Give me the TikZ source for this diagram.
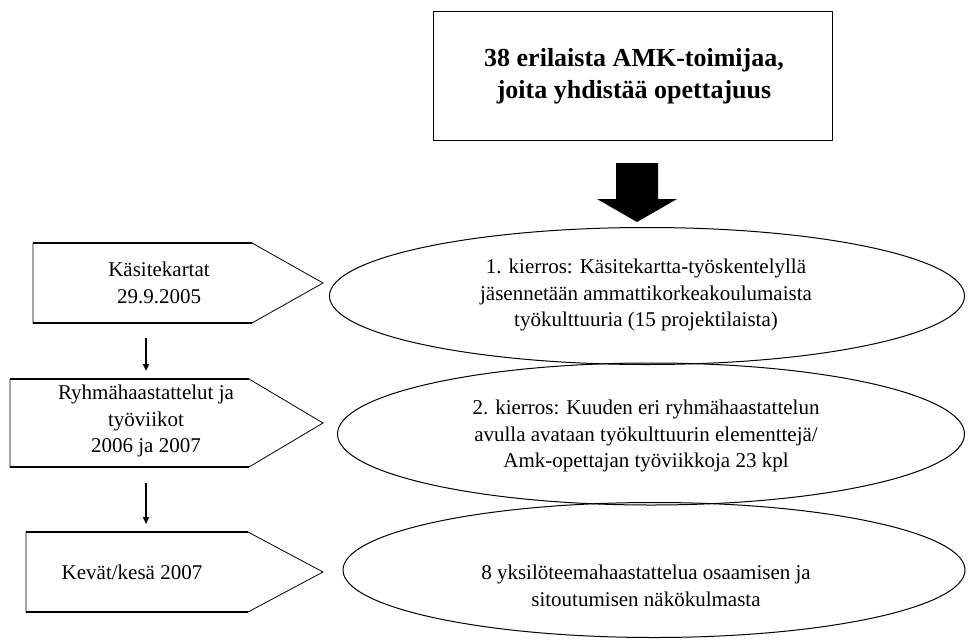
\documentclass[tikz,border=0pt]{standalone}
\usepackage{fontspec}
\setmainfont{Liberation Serif}
\usetikzlibrary{shapes.geometric,arrows.meta}

\tikzset{
  txt/.style={align=center, inner sep=0pt, font=\fontsize{21}{26.5}\selectfont},
  titletxt/.style={align=center, inner sep=0pt, font=\fontsize{26}{32}\selectfont\bfseries},
  oval/.style={draw=black, line width=1pt, ellipse, inner sep=0pt},
  tag/.style={draw=black, line width=0.8pt, line join=miter},
  tagedge/.style={draw=black, line width=1.8pt},
  flow/.style={draw=black, line width=2pt, -{Triangle[length=7pt,width=6pt]}},
}

\begin{document}
\begin{tikzpicture}[x=1pt,y=-1pt]
\useasboundingbox (0,0) rectangle (968,642);

% top box
\draw[line width=1pt] (433,12) rectangle (832,140);
\node[titletxt] (title) at (634,76) {38 erilaista AMK-toimijaa,\\joita yhdistää opettajuus};

% block arrow
\fill[black] (616,163) -- (658,163) -- (658,199) -- (677,199) -- (637,222)
  -- (597,199) -- (616,199) -- cycle;

% tag shapes on the left
\draw[tag] (33,243) -- (252,243) -- (323,283) -- (252,323) -- (33,323) -- cycle;
\draw[tagedge] (33,243) -- (252,243) (33,323) -- (252,323);
\draw[tag] (10,379) -- (249,379) -- (323,423) -- (249,467) -- (10,467) -- cycle;
\draw[tagedge] (10,379) -- (249,379) (10,467) -- (249,467);
\draw[tag] (26,532) -- (248,532) -- (323,572) -- (248,612) -- (26,612) -- cycle;
\draw[tagedge] (26,532) -- (248,532) (26,612) -- (248,612);

\node[txt] (t1) at (159,283) {Käsitekartat\\29.9.2005};
\node[txt] (t2) at (146,421) {Ryhmähaastattelut ja\\työviikot\\2006 ja 2007};
\node[txt] (t3) at (132,572) {Kevät/kesä 2007};

\coordinate (a1s) at (146,338);
\coordinate (a1e) at (146,371);
\coordinate (a2s) at (146,483);
\coordinate (a2e) at (146,524);
\draw[flow] (a1s) -- (a1e);
\draw[flow] (a2s) -- (a2e);

% ellipses
\node[oval, minimum width=635pt, minimum height=137pt] (e1) at (647,296) {};
\node[oval, minimum width=627pt, minimum height=142pt] (e2) at (651,434) {};
\node[oval, minimum width=622pt, minimum height=135pt] (e3) at (654,570) {};

\node[txt] (et1) at (646,295) {1. kierros: Käsitekartta-työskentelyllä\\jäsennetään ammattikorkeakoulumaista\\työkulttuuria (15 projektilaista)};
\node[txt] (et2) at (646,436) {2. kierros: Kuuden eri ryhmähaastattelun\\avulla avataan työkulttuurin elementtejä/\\Amk-opettajan työviikkoja 23 kpl};
\node[txt] (et3) at (646,586) {8 yksilöteemahaastattelua osaamisen ja\\sitoutumisen näkökulmasta};
\end{tikzpicture}
\end{document}
